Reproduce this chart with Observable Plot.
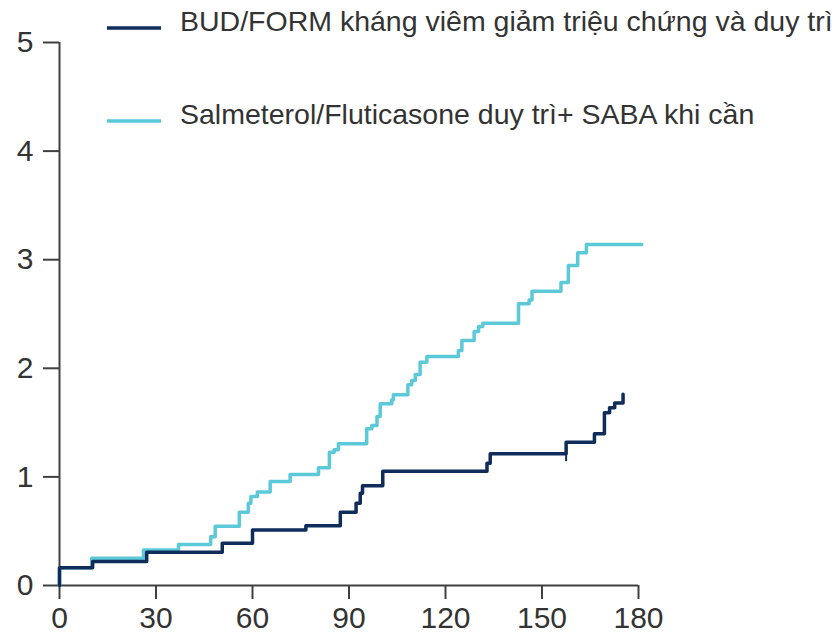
<!DOCTYPE html>
<html>
<head>
<meta charset="utf-8">
<script src="https://cdn.jsdelivr.net/npm/d3@7"></script>
<script src="https://cdn.jsdelivr.net/npm/@observablehq/plot@0.6"></script>
<style>
  html, body { margin: 0; padding: 0; background: #fff; }
  #wrap { position: relative; width: 838px; height: 640px; font-family: "Liberation Sans", Arial, sans-serif; }
  #legend { position: absolute; left: 0; top: 0; }
</style>
</head>
<body>
<div id="wrap"></div>
<script>
// Series names and colours
const seriesNames = [
  "BUD/FORM kháng viêm giảm triệu chứng và duy trì",
  "Salmeterol/Fluticasone duy trì+ SABA khi cần"
];
const seriesColors = ["#0f2c5a", "#5cc9d9"];

// Step points (time, cumulative value) – BUD/FORM
const budX = [0, 0, 10.3, 27.1, 50.6, 60, 76.6, 87.3, 92.2, 93.5, 94.2, 100.5, 132.9, 133.9, 157.5, 166.3, 169.4, 171, 172.6, 175.2];
const budY = [0, 0.163, 0.22, 0.307, 0.39, 0.51, 0.55, 0.675, 0.758, 0.85, 0.918, 1.052, 1.126, 1.213, 1.32, 1.397, 1.59, 1.636, 1.68, 1.76];
// censor tick on BUD/FORM
const censorX = [157.5];
const censorY1 = [1.14];
const censorY2 = [1.32];

// Step points – Salmeterol/Fluticasone
const salX = [0, 0, 10, 26.1, 37, 47, 48.4, 55.9, 58.7, 59.5, 61.5, 65.5, 71.7, 80.5, 83.9, 85.4, 86.7, 95.5, 97.1, 98.7, 99.7, 103.3, 103.8, 108.3, 109.5, 110.6, 112.1, 114.2, 124, 125.1, 128.9, 130.3, 131.6, 142.7, 146, 146.9, 155.9, 158.2, 161.1, 163.8, 181];
const salY = [0, 0.163, 0.252, 0.328, 0.377, 0.45, 0.546, 0.675, 0.758, 0.82, 0.86, 0.958, 1.022, 1.084, 1.227, 1.25, 1.305, 1.443, 1.473, 1.556, 1.673, 1.71, 1.756, 1.848, 1.888, 1.943, 2.056, 2.109, 2.164, 2.256, 2.339, 2.385, 2.415, 2.594, 2.63, 2.71, 2.79, 2.947, 3.063, 3.14, 3.14];

// Axis ticks
const xTicks = [0, 30, 60, 90, 120, 150, 180];
const yTicks = [0, 1, 2, 3, 4, 5];

const bud = budX.map((x, i) => ({x, y: budY[i]}));
const sal = salX.map((x, i) => ({x, y: salY[i]}));
const censor = censorX.map((x, i) => ({x, y1: censorY1[i], y2: censorY2[i]}));

const axisColor = "#404040";

const chart = Plot.plot({
  width: 838,
  height: 640,
  marginLeft: 59,
  marginRight: 200,
  marginTop: 42,
  marginBottom: 55,
  style: {fontFamily: "'Liberation Sans', Arial, sans-serif", fontSize: "30px", background: "#fff", overflow: "visible"},
  x: {domain: [0, 180]},
  y: {domain: [0, 5]},
  marks: [
    Plot.axisY(yTicks, {tickSize: 16, tickPadding: 10, fontSize: 30, tickFormat: d3.format("d"), stroke: axisColor, strokeWidth: 2, fill: "#333", label: null, strokeOpacity: 1}),
    Plot.axisX(xTicks, {tickSize: 14, tickPadding: 7, fontSize: 30, tickFormat: d3.format("d"), stroke: axisColor, strokeWidth: 2, fill: "#333", label: null, strokeOpacity: 1}),
    Plot.ruleX([0], {stroke: axisColor, strokeWidth: 2}),
    Plot.ruleY([0], {stroke: axisColor, strokeWidth: 2}),
    Plot.line(sal, {x: "x", y: "y", curve: "step-after", stroke: seriesColors[1], strokeWidth: 3.5}),
    Plot.line(bud, {x: "x", y: "y", curve: "step-after", stroke: seriesColors[0], strokeWidth: 3.5}),
    Plot.ruleX(censor, {x: "x", y1: "y1", y2: "y2", stroke: seriesColors[0], strokeWidth: 2})
  ]
});

const wrap = document.getElementById("wrap");
wrap.appendChild(chart);

// Legend overlay (drawn above the plot area, as in the reference)
const legendRows = [28, 121];
const legend = d3.create("svg")
  .attr("id", "legend")
  .attr("width", 838)
  .attr("height", 160)
  .style("font-family", "'Liberation Sans', Arial, sans-serif");
seriesNames.forEach((name, i) => {
  const cy = legendRows[i];
  legend.append("line")
    .attr("x1", 107).attr("x2", 161)
    .attr("y1", cy).attr("y2", cy)
    .attr("stroke", seriesColors[i])
    .attr("stroke-width", 3.5);
  legend.append("text")
    .attr("x", 180).attr("y", cy + 3)
    .attr("font-size", 28.5)
    .attr("fill", "#333")
    .text(name);
});
wrap.appendChild(legend.node());
</script>
</body>
</html>
